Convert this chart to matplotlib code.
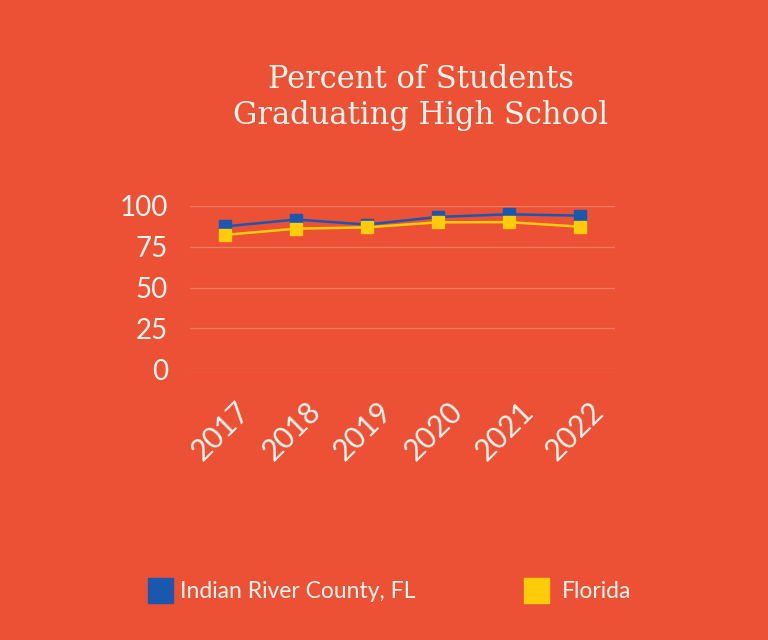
import matplotlib.pyplot as plt
from matplotlib.transforms import ScaledTranslation

years = ["2017", "2018", "2019", "2020", "2021", "2022"]
indian_river = [87.5, 91.7, 88.6, 93.3, 94.9, 94.1]
florida = [82.3, 86.1, 86.9, 90.0, 90.1, 87.3]

bg = "#EC5035"
txt = "#FFF6EE"
blue = "#1A58B0"
yellow = "#FFCC0A"

fig = plt.figure(figsize=(7.68, 6.4), dpi=100, facecolor=bg)
ax = fig.add_axes([190 / 768, 271 / 640, 425 / 768, 163 / 640])
ax.set_facecolor(bg)

x = range(len(years))
ax.plot(x, indian_river, color=blue, lw=1.8, marker="s", ms=8.5, clip_on=False, zorder=3)
ax.plot(x, florida, color=yellow, lw=1.8, marker="s", ms=8.5, clip_on=False, zorder=4)

ax.set_xlim(-0.5, 5.5)
ax.set_ylim(0, 100)
ax.set_yticks([0, 25, 50, 75, 100])
ax.grid(axis="y", color="#F37A5F", lw=1)
ax.set_axisbelow(True)
for s in ax.spines.values():
    s.set_visible(False)
ax.tick_params(length=0, labelcolor=txt, labelsize=20, pad=16)
ax.tick_params(axis="x", pad=20, labelsize=21.5)
ax.set_xticks(list(x))
ax.set_xticklabels(years, rotation=45, ha="right", va="top", rotation_mode="anchor")
shift = ScaledTranslation(0.1, 0, fig.dpi_scale_trans)
for lab in ax.get_xticklabels():
    lab.set_transform(lab.get_transform() + shift)
for lab in ax.get_xticklabels() + ax.get_yticklabels():
    lab.set_fontfamily("Lato")
    lab.set_color(txt)

fig.text(0.548, 0.848, "Percent of Students\nGraduating High School", ha="center", va="center",
         color=txt, fontsize=22, family="DejaVu Serif", linespacing=1.2)

# legend
fig.patches.append(plt.Rectangle((148 / 768, 1 - 603 / 640), 25 / 768, 25 / 640,
                                 transform=fig.transFigure, color=blue))
fig.text(180 / 768, 1 - 591 / 640, "Indian River County, FL", color=txt, fontsize=16.5,
         family="Lato", va="center")
fig.patches.append(plt.Rectangle((524 / 768, 1 - 603 / 640), 25 / 768, 25 / 640,
                                 transform=fig.transFigure, color=yellow))
fig.text(562 / 768, 1 - 591 / 640, "Florida", color=txt, fontsize=16.5, family="Lato", va="center")

fig.savefig("out.png", dpi=100, facecolor=bg)
